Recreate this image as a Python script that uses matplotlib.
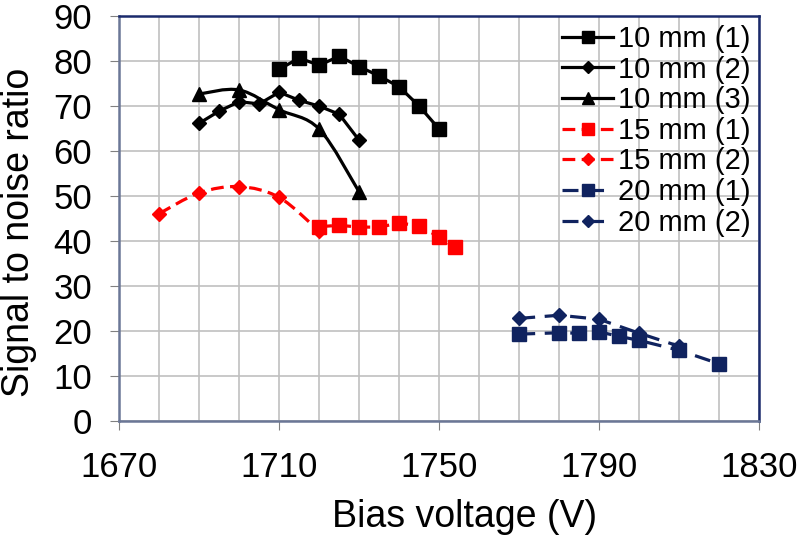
import matplotlib
matplotlib.use("Agg")
import matplotlib.pyplot as plt
from matplotlib.path import Path
from matplotlib.patches import PathPatch
from matplotlib.lines import Line2D

plt.rcParams['font.family'] = ['Liberation Sans', 'DejaVu Sans']

# data
v_10_1 = [1710, 1715, 1720, 1725, 1730, 1735, 1740, 1745, 1750]
snr_10_1 = [78.2, 80.7, 79.1, 81.1, 78.8, 76.7, 74.3, 70.0, 64.9]

v_10_2 = [1690, 1695, 1700, 1705, 1710, 1715, 1720, 1725, 1730]
snr_10_2 = [66.2, 68.9, 71.0, 70.5, 73.1, 71.3, 70.0, 68.2, 62.4]

v_10_3 = [1690, 1700, 1710, 1720, 1730]
snr_10_3 = [72.7, 73.6, 69.2, 64.9, 50.9]

v_15_1 = [1720, 1725, 1730, 1735, 1740, 1745, 1750, 1754]
snr_15_1 = [43.2, 43.5, 43.1, 43.1, 44.0, 43.4, 40.9, 38.6]

v_15_2 = [1680, 1690, 1700, 1710, 1720]
snr_15_2 = [46.1, 50.7, 52.1, 49.7, 42.2]

v_20_1 = [1770, 1780, 1785, 1790, 1795, 1800, 1810, 1820]
snr_20_1 = [19.3, 19.6, 19.5, 19.8, 18.8, 17.9, 15.7, 12.7]

v_20_2 = [1770, 1780, 1790, 1800, 1810]
snr_20_2 = [22.8, 23.5, 22.6, 19.5, 16.6]

black = 'black'
red = '#ff0000'
navy = '#10235f'
lw = 2.3


def smooth_path(xs, ys):
    # Excel-style smoothed line: cubic Bezier segments through the points
    n = len(xs)
    verts = [(xs[0], ys[0])]
    codes = [Path.MOVETO]
    for i in range(n - 1):
        x0, y0 = xs[max(i - 1, 0)], ys[max(i - 1, 0)]
        x1, y1 = xs[i], ys[i]
        x2, y2 = xs[i + 1], ys[i + 1]
        x3, y3 = xs[min(i + 2, n - 1)], ys[min(i + 2, n - 1)]
        c1 = (x1 + (x2 - x0) / 6, y1 + (y2 - y0) / 6)
        c2 = (x2 - (x3 - x1) / 6, y2 - (y3 - y1) / 6)
        verts += [c1, c2, (x2, y2)]
        codes += [Path.CURVE4] * 3
    return Path(verts, codes)


fig = plt.figure(figsize=(8, 5.41), dpi=100)
ax = fig.add_axes([0.149, 0.222, 0.8, 0.748])

ax.plot(v_10_1, snr_10_1, color=black, lw=lw, marker='s', ms=9.5, zorder=3)
ax.plot(v_10_2, snr_10_2, color=black, lw=lw, marker='D', ms=7.5, zorder=3)
ax.add_patch(PathPatch(smooth_path(v_10_3, snr_10_3), fill=False,
                       edgecolor=black, lw=lw, zorder=3))
ax.plot(v_10_3, snr_10_3, ls='none', color=black, marker='^', ms=10, zorder=4)
ax.plot(v_15_1, snr_15_1, color=red, lw=lw, ls=(0, (4, 2)), marker='s', ms=9.5, zorder=3)
ax.add_patch(PathPatch(smooth_path(v_15_2, snr_15_2), fill=False,
                       edgecolor=red, lw=lw, ls=(0, (4, 2)), zorder=3))
ax.plot(v_15_2, snr_15_2, ls='none', color=red, marker='D', ms=7.5, zorder=4)
ax.plot(v_20_1, snr_20_1, color=navy, lw=lw, ls=(0, (5, 3)), marker='s', ms=9.5, zorder=3)
ax.plot(v_20_2, snr_20_2, color=navy, lw=lw, ls=(0, (5, 3)), marker='D', ms=7.5, zorder=3)

handles = [
    Line2D([], [], color=black, lw=lw, marker='s', ms=8),
    Line2D([], [], color=black, lw=lw, marker='D', ms=6.5),
    Line2D([], [], color=black, lw=lw, marker='^', ms=8.5),
    Line2D([], [], color=red, lw=lw, ls=(0, (4, 2)), marker='s', ms=8),
    Line2D([], [], color=red, lw=lw, ls=(0, (4, 2)), marker='D', ms=6.5),
    Line2D([], [], color=navy, lw=lw, ls=(0, (5, 3)), marker='s', ms=8),
    Line2D([], [], color=navy, lw=lw, ls=(0, (5, 3)), marker='D', ms=6.5),
]
labels = ['10 mm (1)', '10 mm (2)', '10 mm (3)', '15 mm (1)', '15 mm (2)',
          '20 mm (1)', '20 mm (2)']
ax.legend(handles, labels, loc='upper right', frameon=False, fontsize=21,
          handlelength=1.75, handletextpad=0.15, labelspacing=0.09,
          borderaxespad=0.0, borderpad=0.3, bbox_to_anchor=(1.0, 1.0))

ax.set_xlim(1670, 1830)
ax.set_ylim(0, 90)
ax.set_xticks(range(1670, 1831, 40))
ax.set_xticks(range(1670, 1831, 10), minor=True)
ax.set_yticks(range(0, 91, 10))
ax.grid(True, which='both', color='#c0c0c0', lw=1.2)
ax.set_axisbelow(True)
ax.tick_params(which='minor', length=0)
ax.tick_params(which='major', direction='out', length=6.5, color='#808080',
               labelsize=25)
ax.tick_params(axis='x', which='major', pad=15)
ax.tick_params(axis='y', which='major', pad=13)

for side in ['top', 'right']:
    ax.spines[side].set_color('#1a2a6c')
    ax.spines[side].set_linewidth(1.8)
for side in ['left', 'bottom']:
    ax.spines[side].set_color('#6b7796')
    ax.spines[side].set_linewidth(1.8)

ax.set_xlabel('Bias voltage (V)', fontsize=27)
ax.set_ylabel('Signal to noise ratio', fontsize=27)
ax.xaxis.set_label_coords(0.54, -0.192)
ax.yaxis.set_label_coords(-0.128, 0.465)

fig.savefig('out.png', dpi=100)
